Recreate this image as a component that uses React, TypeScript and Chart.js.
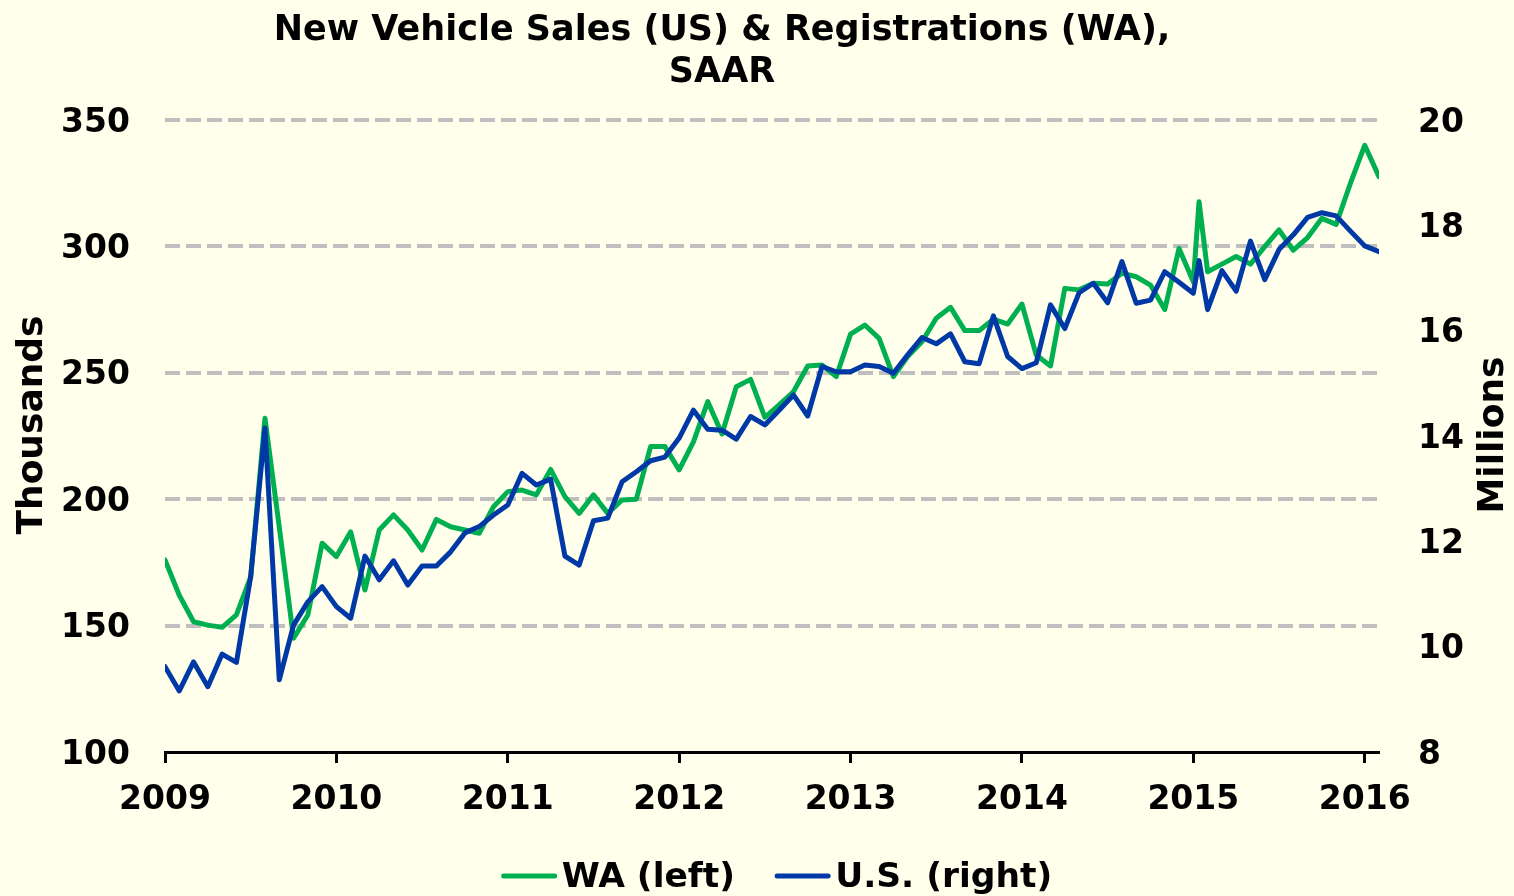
import React, { useEffect, useRef } from "react";
import { Chart, registerables } from "chart.js";

Chart.register(...registerables);

const FONT = "'DejaVu Sans', Verdana, sans-serif";
const BG = "#FFFFEC";
const GREEN = "#00B050";
const BLUE = "#0039A6";

const TITLE_LINES = ["New Vehicle Sales (US) & Registrations (WA),", "SAAR"];
const LEFT_AXIS_TITLE = "Thousands";
const RIGHT_AXIS_TITLE = "Millions";
const SERIES_LABELS = ["WA (left)", "U.S. (right)"];

// x positions: months since Jan 2009 (one extra reading inside Jan 2015)
const MONTHS = [
  0, 1, 2, 3, 4, 5, 6, 7, 8, 9, 10, 11,
  12, 13, 14, 15, 16, 17, 18, 19, 20, 21, 22, 23,
  24, 25, 26, 27, 28, 29, 30, 31, 32, 33, 34, 35,
  36, 37, 38, 39, 40, 41, 42, 43, 44, 45, 46, 47,
  48, 49, 50, 51, 52, 53, 54, 55, 56, 57, 58, 59,
  60, 61, 62, 63, 64, 65, 66, 67, 68, 69, 70, 71,
  72, 72.4, 73, 74, 75, 76, 77, 78, 79, 80, 81, 82, 83,
  84, 85,
];

const YEAR_TICKS = [0, 12, 24, 36, 48, 60, 72, 84];
const YEAR_LABELS = ["2009", "2010", "2011", "2012", "2013", "2014", "2015", "2016"];

// WA registrations, SAAR, thousands (left axis)
const WA = [
  176, 162, 151.5, 150.2, 149.3, 154.2, 169.3, 232, 189, 145, 154.2, 182.6,
  177.3, 187.1, 164.1, 187.8, 193.8, 187.8, 179.9, 192, 189.1, 187.8, 186.5, 197,
  203, 203.6, 201.7, 211.8, 201, 194.4, 201.7, 194.4, 199.7, 200, 220.8, 220.8,
  211.6, 222.7, 238.6, 225.8, 244.5, 247.4, 232.4, 237.3, 242.5, 252.7, 253.1, 248.5,
  265.3, 268.9, 263.6, 248.5, 256.4, 262.3, 271.6, 275.9, 266.7, 266.7, 271.2, 269.3,
  277.2, 257, 252.7, 283.4, 282.8, 285.4, 285.1, 289.4, 288, 284.7, 275, 299.2,
  286, 317.7, 290, 293, 296, 293, 299.9, 306.5, 298.5, 303.5, 311.1, 308.7, 325,
  340, 327.6,
];

// US new vehicle sales, SAAR, millions (right axis)
const US = [
  9.62, 9.16, 9.71, 9.24, 9.86, 9.7, 11.33, 14.15, 9.37, 10.41, 10.85, 11.14,
  10.76, 10.54, 11.72, 11.27, 11.63, 11.17, 11.53, 11.53, 11.8, 12.16, 12.28, 12.5,
  12.69, 13.29, 13.07, 13.18, 11.72, 11.55, 12.39, 12.44, 13.13, 13.32, 13.53, 13.6,
  13.96, 14.49, 14.13, 14.11, 13.94, 14.37, 14.21, 14.49, 14.78, 14.38, 15.32, 15.22,
  15.22, 15.35, 15.32, 15.19, 15.54, 15.87, 15.75, 15.94, 15.41, 15.37, 16.28, 15.51,
  15.28, 15.39, 16.49, 16.04, 16.72, 16.9, 16.53, 17.31, 16.52, 16.58, 17.12, 16.92,
  16.71, 17.33, 16.4, 17.14, 16.75, 17.7, 16.97, 17.54, 17.82, 18.15, 18.24, 18.18, 17.89,
  17.61, 17.5,
];

const LEFT_TICKS = [100, 150, 200, 250, 300, 350];
const RIGHT_TICKS = [8, 10, 12, 14, 16, 18, 20];

const decorPlugin = {
  id: "decor",
  beforeDraw(chart: any) {
    const ctx = chart.ctx;
    ctx.save();
    ctx.fillStyle = BG;
    ctx.fillRect(0, 0, chart.width, chart.height);
    ctx.restore();
  },
  afterDraw(chart: any) {
    const ctx = chart.ctx;
    const ca = chart.chartArea;
    ctx.save();
    ctx.fillStyle = "#000";
    ctx.textAlign = "center";
    ctx.textBaseline = "middle";

    // title
    ctx.font = `bold 35px ${FONT}`;
    ctx.fillText(TITLE_LINES[0], 722, 31);
    ctx.fillText(TITLE_LINES[1], 722, 73);

    // axis titles
    const midY = (ca.top + ca.bottom) / 2;
    ctx.font = `bold 36px ${FONT}`;
    ctx.save();
    ctx.translate(33, midY - 11);
    ctx.rotate(-Math.PI / 2);
    ctx.fillText(LEFT_AXIS_TITLE, 0, 0);
    ctx.restore();
    ctx.save();
    ctx.translate(1494, midY - 1);
    ctx.rotate(-Math.PI / 2);
    ctx.fillText(RIGHT_AXIS_TITLE, 0, 0);
    ctx.restore();

    // legend
    ctx.font = `bold 34.5px ${FONT}`;
    const lineLen = 55;
    const gapText = 5;
    const gapItem = 40;
    const colors = chart.data.datasets.map((d: any) => d.borderColor);
    const widths = SERIES_LABELS.map((t) => ctx.measureText(t).width);
    const total = widths.reduce((a: number, w: number) => a + lineLen + gapText + w, 0) + gapItem * (SERIES_LABELS.length - 1);
    let x = (ca.left + ca.right) / 2 + 5 - total / 2;
    const ly = 878;
    ctx.textAlign = "left";
    SERIES_LABELS.forEach((t, i) => {
      ctx.strokeStyle = colors[i];
      ctx.lineWidth = 5;
      ctx.lineCap = "round";
      ctx.beginPath();
      ctx.moveTo(x + 2, ly - 2);
      ctx.lineTo(x + lineLen - 2, ly - 2);
      ctx.stroke();
      ctx.fillStyle = "#000";
      ctx.fillText(t, x + lineLen + gapText, ly);
      x += lineLen + gapText + widths[i] + gapItem;
    });
    ctx.restore();
  },
};

export default function App() {
  const canvasRef = useRef<HTMLCanvasElement | null>(null);

  useEffect(() => {
    document.body.style.margin = "0";
    const canvas = canvasRef.current;
    if (!canvas) return;

    const chart = new Chart(canvas, {
      type: "line",
      data: {
        datasets: [
          {
            label: SERIES_LABELS[0],
            data: MONTHS.map((m, i) => ({ x: m, y: WA[i] })),
            borderColor: GREEN,
            backgroundColor: GREEN,
            borderWidth: 5,
            pointRadius: 0,
            tension: 0,
            borderJoinStyle: "round",
            borderCapStyle: "round",
            yAxisID: "yL",
            order: 1,
          },
          {
            label: SERIES_LABELS[1],
            data: MONTHS.map((m, i) => ({ x: m, y: US[i] })),
            borderColor: BLUE,
            backgroundColor: BLUE,
            borderWidth: 5,
            pointRadius: 0,
            tension: 0,
            borderJoinStyle: "round",
            borderCapStyle: "round",
            yAxisID: "yR",
            order: 0,
          },
        ],
      },
      options: {
        responsive: false,
        animation: false,
        devicePixelRatio: 1,
        layout: { padding: { top: 120, bottom: 0, left: 0, right: 0 } },
        plugins: {
          legend: { display: false },
          title: { display: false },
          tooltip: { enabled: false },
        },
        scales: {
          x: {
            type: "linear",
            min: 0,
            max: 85,
            afterBuildTicks: (axis: any) => {
              axis.ticks = YEAR_TICKS.map((v) => ({ value: v }));
            },
            afterFit: (axis: any) => {
              axis.height = 144;
            },
            ticks: {
              autoSkip: false,
              maxRotation: 0,
              padding: 18,
              color: "#000",
              font: { family: FONT, size: 33, weight: "bold" },
              callback: (v: any) => YEAR_LABELS[YEAR_TICKS.indexOf(Number(v))] ?? "",
            },
            grid: {
              display: true,
              drawOnChartArea: false,
              drawTicks: true,
              tickLength: 11,
              tickColor: "#000",
              tickWidth: 3,
            },
            border: { display: true, color: "#000", width: 3 },
          },
          yL: {
            type: "linear",
            position: "left",
            min: 100,
            max: 350,
            afterBuildTicks: (axis: any) => {
              axis.ticks = LEFT_TICKS.map((v) => ({ value: v }));
            },
            afterFit: (axis: any) => {
              axis.width = 165;
            },
            ticks: {
              padding: 35,
              labelOffset: 3,
              color: "#000",
              font: { family: FONT, size: 33, weight: "bold" },
            },
            grid: {
              drawTicks: false,
              lineWidth: 4,
              color: (c: any) => (c.tick && c.tick.value === 100 ? "rgba(0,0,0,0)" : "#BFBFBF"),
            },
            border: { display: false, dash: [15, 6] },
          },
          yR: {
            type: "linear",
            position: "right",
            min: 8,
            max: 20,
            afterBuildTicks: (axis: any) => {
              axis.ticks = RIGHT_TICKS.map((v) => ({ value: v }));
            },
            afterFit: (axis: any) => {
              axis.width = 1514 - 1379;
            },
            ticks: {
              padding: 39,
              labelOffset: 3,
              color: "#000",
              font: { family: FONT, size: 33, weight: "bold" },
            },
            grid: { display: false, drawTicks: false },
            border: { display: false },
          },
        },
      },
      plugins: [decorPlugin],
    } as any);

    return () => chart.destroy();
  }, []);

  return (
    <div style={{ width: 1514, height: 896, background: BG }}>
      <canvas ref={canvasRef} width={1514} height={896} style={{ display: "block" }} />
    </div>
  );
}
